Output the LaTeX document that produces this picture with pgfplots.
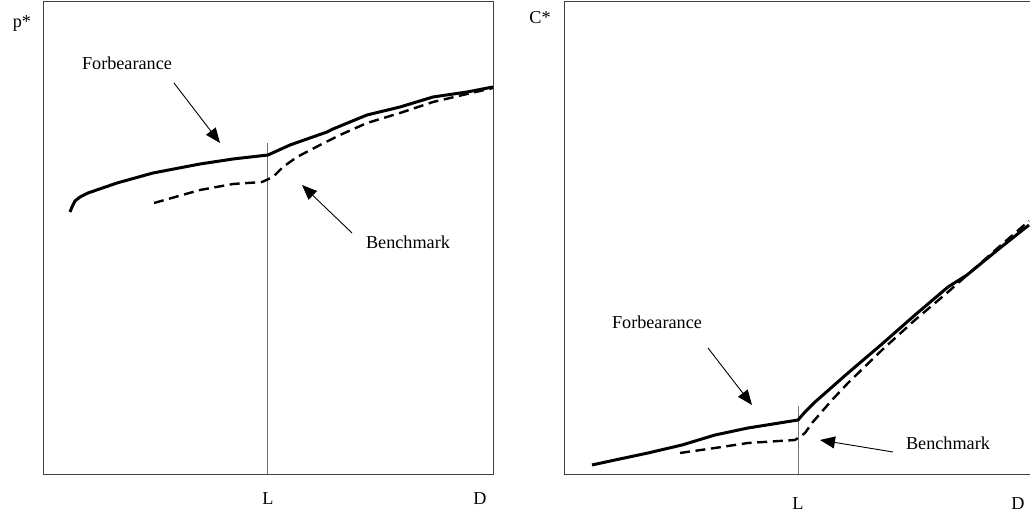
\documentclass[border=0pt]{standalone}
\usepackage{fontspec}
\setmainfont{Liberation Serif}
\usepackage{pgfplots}
\pgfplotsset{compat=1.18}
\usetikzlibrary{arrows.meta}

% solid = forbearance, dashed = benchmark (units: pixels of the box)
\pgfplotsset{
  panel/.style={
    scale only axis, height=236.5pt,
    xmin=0, ymin=0, ymax=473,
    ytick=\empty, major tick length=0pt,
    axis line style={black!75},
    clip=false,
    xticklabel style={yshift=-6pt},
    tick label style={font=\fontsize{9.1}{11}\selectfont},
  },
}
\tikzset{
  forb/.style={black, line width=1.5pt, line join=round},
  bench/.style={black, line width=1.2pt, dash pattern=on 5pt off 2.8pt},
  lline/.style={black!55, line width=0.5pt},
  note/.style={font=\fontsize{9.1}{11}\selectfont},
  pointer/.style={black, line width=0.45pt, -{Triangle[length=7.5pt, width=6pt]}},
}

\begin{document}
\begin{tikzpicture}
\useasboundingbox (0,0) rectangle (515pt,257pt);

\begin{axis}[panel, at={(21.5pt,20pt)}, width=225pt, xmax=450,
  xtick={225,437}, xticklabels={L,D}]
  \addplot [lline] coordinates {(225,0) (225,331)};
  \addplot [forb] coordinates {
    (27,262) (29,267) (32,273) (37,277) (45,281) (74,291) (110,301)
    (157,310) (190,315) (225,319) (247,329) (284,342) (290,345)
    (324,359) (357,367) (390,377) (424,382) (450,387)};
  \addplot [bench] coordinates {
    (111,271) (157,284) (190,290) (219,292) (230,297) (240,307)
    (254,317) (277,329) (297,339) (324,351) (357,361) (390,372)
    (424,380) (450,386)};
  \draw [pointer] (axis cs:131,391) -- (axis cs:177,331);
  \draw [pointer] (axis cs:309,241) -- (axis cs:259,289);
  \node [note] at (axis cs:84,411) {Forbearance};
  \node [note] at (axis cs:365,232) {Benchmark};
  \node [note] at (axis cs:-21,451) {p*};
\end{axis}

\begin{axis}[panel, at={(282pt,20pt)}, width=233pt, xmax=466,
  xtick={234,454}, xticklabels={L,D}, xticklabel style={yshift=-2.5pt}]
  \addplot [lline] coordinates {(234,0) (234,68)};
  \addplot [forb] coordinates {
    (28,9) (51,14) (84,21) (118,29) (151,39) (184,46) (234,54)
    (241,62) (251,72) (284,101) (318,130) (351,159) (384,187)
    (403,199) (436,226) (465,249)};
  \addplot [bench] coordinates {
    (116,21) (151,26) (184,31) (231,34) (241,41) (248,51) (268,74)
    (284,91) (318,124) (351,154) (384,182) (436,228) (465,253)};
  \draw [pointer] (axis cs:144,126) -- (axis cs:188,69);
  \draw [pointer] (axis cs:329,22) -- (axis cs:256,34);
  \node [note] at (axis cs:93,152) {Forbearance};
  \node [note] at (axis cs:384,31) {Benchmark};
  \node [note] at (axis cs:-24,456) {C*};
\end{axis}
\end{tikzpicture}
\end{document}
